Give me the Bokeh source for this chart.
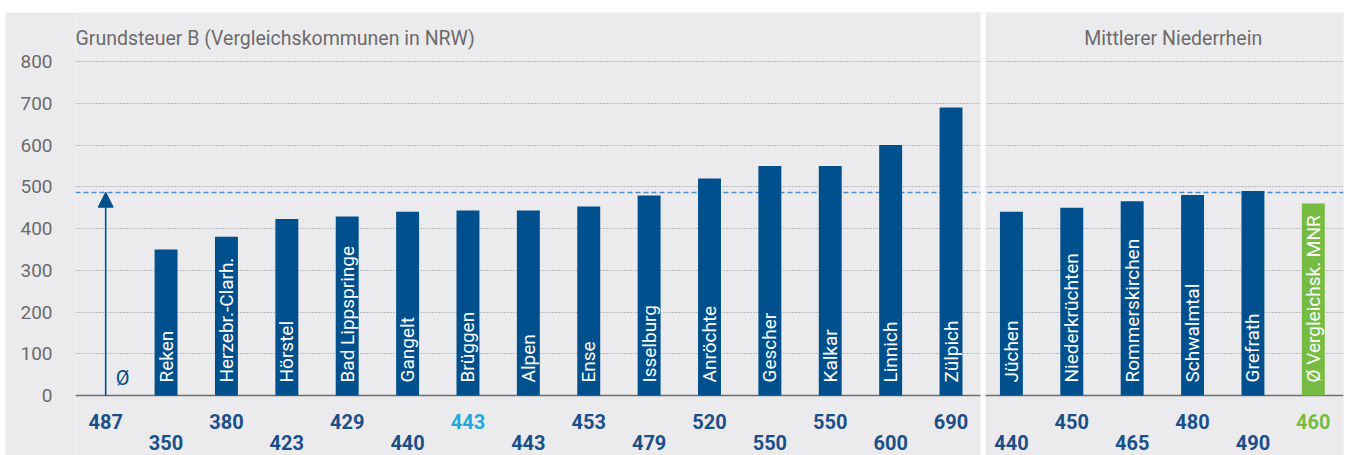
import math

from bokeh.core.properties import value
from bokeh.embed import file_html
from bokeh.models import Arrow, ColumnDataSource, FixedTicker, NormalHead, Range1d, Span
from bokeh.plotting import figure
from bokeh.resources import INLINE

# Grundsteuer B rates (Hebesatz in %) of the NRW comparison municipalities
nrw_avg = 487
left_names = ["Reken", "Herzebr.-Clarh.", "Hörstel", "Bad Lippspringe", "Gangelt",
              "Brüggen", "Alpen", "Ense", "Isselburg", "Anröchte", "Gescher",
              "Kalkar", "Linnich", "Zülpich"]
left_values = [350, 380, 423, 429, 440, 443, 443, 453, 479, 520, 550, 550, 600, 690]

# Municipalities of the Mittlerer Niederrhein region and their average
right_names = ["Jüchen", "Niederkrüchten", "Rommerskirchen", "Schwalmtal", "Grefrath"]
right_values = [440, 450, 465, 480, 490]
mnr_avg_name = "Ø Vergleichsk. MNR"
mnr_avg = 460

highlight_name = "Brüggen"
y_ticks = [0, 100, 200, 300, 400, 500, 600, 700, 800]

left_title = "Grundsteuer B (Vergleichskommunen in NRW)"
right_title = "Mittlerer Niederrhein"

# colours
BG = "#EBEBED"
BLUE = "#00508E"
LABEL_BLUE = "#1B4F8A"
CYAN = "#1FA8DF"
GREEN = "#76BC43"
GREY_TEXT = "#6B6B6B"
FONT = "Roboto"

# slot 0 holds the NRW average arrow, the bars follow in one row
names = left_names + right_names + [mnr_avg_name]
vals = left_values + right_values + [mnr_avg]
slots = list(range(1, len(vals) + 1))
bar_colors = [GREEN if n == mnr_avg_name else BLUE for n in names]

all_vals = [nrw_avg] + vals
all_slots = [0] + slots
num_colors = []
for n in ["Ø"] + names:
    if n == highlight_name:
        num_colors.append(CYAN)
    elif n == mnr_avg_name:
        num_colors.append(GREEN)
    else:
        num_colors.append(LABEL_BLUE)
num_offsets = [26 if i % 2 == 0 else 47 for i in range(len(all_vals))]

bars = ColumnDataSource(dict(x=slots, top=vals, name=names, color=bar_colors,
                             base=[0] * len(vals)))
nums = ColumnDataSource(dict(x=all_slots, y=[0] * len(all_vals),
                             text=[str(v) for v in all_vals],
                             color=num_colors, dy=num_offsets))

p = figure(width=1339, height=443, margin=(12, 5, 0, 5),
           x_range=Range1d(-0.5, len(all_vals) - 0.5),
           y_range=Range1d(-143.7, 917.4),
           x_axis_type=None, output_backend="svg", toolbar_location=None,
           min_border_left=70, min_border_right=1, min_border_top=0, min_border_bottom=0,
           background_fill_color=BG, border_fill_color=BG, outline_line_color=None)

# y axis: labels only
ax = p.yaxis[0]
ax.ticker = FixedTicker(ticks=y_ticks)
ax.axis_line_color = None
ax.major_tick_line_color = None
ax.minor_tick_line_color = None
ax.major_label_standoff = 17
ax.major_label_text_font = FONT
ax.major_label_text_font_size = "19px"
ax.major_label_text_color = GREY_TEXT

# dotted horizontal grid
p.ygrid.ticker = FixedTicker(ticks=y_ticks[1:])
p.ygrid.grid_line_color = "#8E8E8E"
p.ygrid.grid_line_dash = "1 2"
p.ygrid.grid_line_width = 1

# NRW average as dashed reference line, then the baseline
p.hspan(y=[nrw_avg], line_color="#4A8BCB", line_dash="5 3", line_width=1.3)
p.hspan(y=[0], line_color="#6E6E6E", line_width=1.6)

p.vbar(x="x", top="top", bottom="base", width=0.38, source=bars,
       fill_color="color", line_color=None)

# names written upward inside the bars
p.text(x="x", y="base", text="name", source=bars, angle=math.pi / 2,
       text_align="left", text_baseline="middle", y_offset=-13,
       text_color="white", text_font=value(FONT), text_font_size="19px")

# arrow marking the NRW average
p.add_layout(Arrow(end=NormalHead(size=15, fill_color=BLUE, line_color=BLUE, line_width=1),
                   x_start=0, y_start=0, x_end=0, y_end=nrw_avg,
                   line_color=BLUE, line_width=1.6))
p.text(x=[0], y=[0], text=["Ø"], x_offset=17, y_offset=-18,
       text_align="center", text_baseline="middle", text_color=BLUE,
       text_font=value(FONT), text_font_size="20px")

# values below the axis, in two staggered rows
p.text(x="x", y="y", text="text", source=nums, y_offset="dy",
       text_align="center", text_baseline="middle", text_color="color",
       text_font=value(FONT), text_font_size="20px", text_font_style="bold")

# panel headings
p.text(x=[-0.5], y=[855], text=[left_title], text_align="left", text_baseline="middle",
       text_color=GREY_TEXT, text_font=value(FONT), text_font_size="19.5px")
p.text(x=[17.68], y=[855], text=[right_title], text_align="center", text_baseline="middle",
       text_color=GREY_TEXT, text_font=value(FONT), text_font_size="19.5px")

# white gap between the two panels
p.add_layout(Span(location=len(left_names) + 0.53, dimension="height",
                  line_color="white", line_width=5))

open("out.html", "w").write(file_html(p, INLINE))
